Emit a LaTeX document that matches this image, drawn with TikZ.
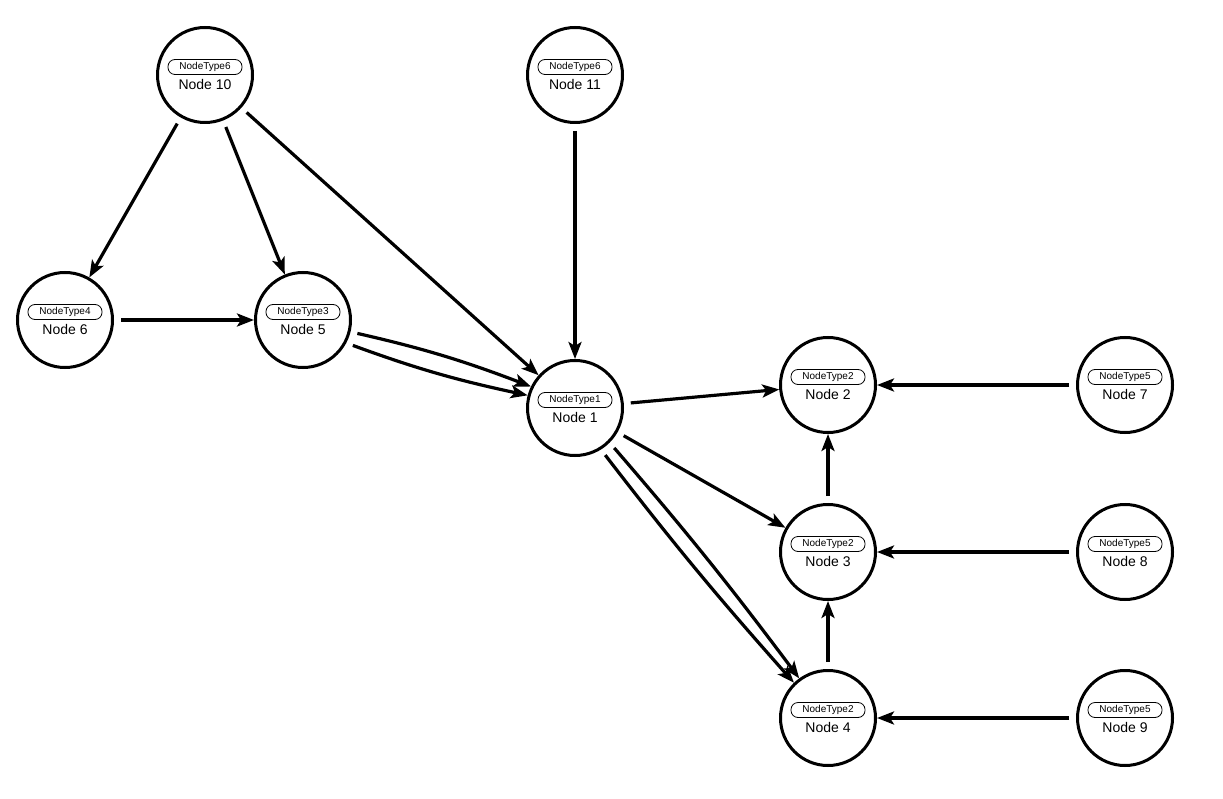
\documentclass[tikz,border=0pt]{standalone}
\usepackage{fontspec}
\setmainfont{Liberation Sans}
\usetikzlibrary{arrows.meta}
\begin{document}
\begin{tikzpicture}[x=1pt,y=-1pt,
  gn/.style={circle,draw,line width=3pt,minimum size=95pt,inner sep=0pt},
  ttl/.style={font=\fontsize{14}{14}\selectfont,inner sep=0pt},
  badge/.style={draw,line width=0.8pt,rounded corners=7pt,minimum width=74pt,minimum height=15pt,inner sep=0pt,font=\fontsize{10}{10}\selectfont},
  ed/.style={line width=3.2pt,-{Stealth[length=17pt,width=13pt,inset=4pt]},shorten <=7pt}]
\useasboundingbox (0,0) rectangle (1223,799);
\newcommand{\gnode}[5]{%
  \node[gn] (#1) at (#2,#3) {};
  \node[ttl] (#1t) at ([yshift=-9pt]#1.center) {#4};
  \node[badge] (#1b) at ([yshift=8pt]#1.center) {#5};}
\gnode{n10}{205}{75}{Node 10}{NodeType6}
\gnode{n11}{575}{75}{Node 11}{NodeType6}
\gnode{n6}{65}{320}{Node 6}{NodeType4}
\gnode{n5}{303}{320}{Node 5}{NodeType3}
\gnode{n1}{575}{408}{Node 1}{NodeType1}
\gnode{n2}{828}{385}{Node 2}{NodeType2}
\gnode{n7}{1125}{385}{Node 7}{NodeType5}
\gnode{n3}{828}{552}{Node 3}{NodeType2}
\gnode{n8}{1125}{552}{Node 8}{NodeType5}
\gnode{n4}{828}{718}{Node 4}{NodeType2}
\gnode{n9}{1125}{718}{Node 9}{NodeType5}
\draw[ed] (n10) -- (n6);
\draw[ed] (n10) -- (n5);
\draw[ed] (n10) -- (n1);
\draw[ed] (n11) -- (n1);
\draw[ed] (n6) -- (n5);
\draw[ed] (n5.-14) to[bend left=4] (n1.154);
\draw[ed] (n5.-28) to[bend right=4] (n1.165);
\draw[ed] (n1) -- (n2);
\draw[ed] (n1) -- (n3);
\draw[ed] (n1.-45) to[bend left=2] (n4.126);
\draw[ed] (n1.-58) to[bend right=2] (n4.134);
\draw[ed] (n3) -- (n2);
\draw[ed] (n4) -- (n3);
\draw[ed] (n7) -- (n2);
\draw[ed] (n8) -- (n3);
\draw[ed] (n9) -- (n4);
\end{tikzpicture}
\end{document}
